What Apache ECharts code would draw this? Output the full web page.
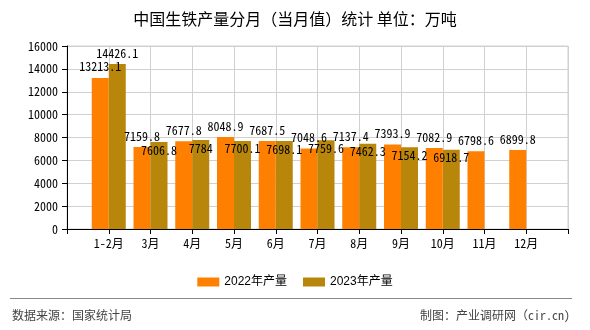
<!DOCTYPE html>
<html>
<head>
<meta charset="utf-8">
<script src="https://cdn.jsdelivr.net/npm/echarts@6/dist/echarts.min.js"></script>
<style>html,body{margin:0;padding:0;background:#fff;}#c{width:590px;height:330px;}</style>
</head>
<body>
<div id="c"></div>
<script>
const months = ["1-2月","3月","4月","5月","6月","7月","8月","9月","10月","11月","12月"];
const values2022 = [13213.1, 7159.8, 7677.8, 8048.9, 7687.5, 7048.6, 7137.4, 7393.9, 7082.9, 6798.6, 6899.8];
const values2023 = [14426.1, 7606.8, 7784, 7700.1, 7698.1, 7759.6, 7462.3, 7154.2, 6918.7, null, null];
const yTicks = [0, 2000, 4000, 6000, 8000, 10000, 12000, 14000, 16000];
const seriesNames = ["2022年产量", "2023年产量"];

const MONO = '"Noto Sans Mono CJK SC", "Noto Sans CJK SC", "DejaVu Sans Mono", monospace';
const cats = [""].concat(months, [""]);
const pad = arr => [null].concat(arr, [null]);

const d2022 = pad(values2022);
const d2023 = pad(values2023).map((v, i) => {
  if (v == null) return null;
  if (i === 1) return { value: v, label: { position: 'top', distance: 5 } };
  return { value: v };
});

const chart = echarts.init(document.getElementById('c'), null, { renderer: 'canvas' });
chart.setOption({
  animation: false,
  backgroundColor: '#fff',
  title: {
    text: '中国生铁产量分月（当月值）统计 单位：万吨',
    left: 'center', top: 6,
    textStyle: { fontSize: 16, fontWeight: 'normal', color: '#000', fontFamily: '"Noto Sans CJK SC", sans-serif' }
  },
  legend: {
    data: seriesNames,
    left: 'center', top: 271,
    itemWidth: 22, itemHeight: 9, itemGap: 16,
    textStyle: { fontSize: 12, color: '#000', fontFamily: '"Liberation Sans", "Noto Sans CJK SC", sans-serif' },
    icon: 'rect'
  },
  grid: { left: 67, right: 22, top: 46, bottom: 101, containLabel: false, show: true, borderColor: '#d0d0d0', borderWidth: 1 },
  xAxis: {
    type: 'category',
    data: cats,
    boundaryGap: false,
    axisLine: { lineStyle: { color: '#000', width: 1 } },
    axisTick: { show: true, interval: 0, length: 5, lineStyle: { color: '#000' } },
    axisLabel: { interval: 0, margin: 8, fontSize: 12, color: '#000', fontFamily: MONO },
    splitLine: { show: true, interval: 0, lineStyle: { color: '#d0d0d0', width: 1 } }
  },
  yAxis: {
    type: 'value',
    min: yTicks[0], max: yTicks[yTicks.length - 1], interval: yTicks[1] - yTicks[0],
    axisLine: { show: true, lineStyle: { color: '#000', width: 1 } },
    axisTick: { show: true, length: 5, lineStyle: { color: '#000' } },
    axisLabel: { margin: 9, fontSize: 12, color: '#000', fontFamily: MONO, formatter: v => String(v) },
    splitLine: { show: true, lineStyle: { color: '#d0d0d0', width: 1 } }
  },
  series: [
    {
      name: seriesNames[0], type: 'bar', data: d2022,
      barWidth: 17, barGap: '0%',
      itemStyle: { color: '#FF8000' },
      label: { show: true, position: 'top', distance: 5, fontSize: 12, color: '#000', fontFamily: MONO }
    },
    {
      name: seriesNames[1], type: 'bar', data: d2023,
      barWidth: 17, barGap: '0%',
      itemStyle: { color: '#B8860B' },
      label: { show: true, position: 'insideTop', distance: 2, fontSize: 12, color: '#000', fontFamily: MONO }
    }
  ],
  graphic: [
    { type: 'line', shape: { x1: 10, y1: 298.5, x2: 572, y2: 298.5 }, style: { stroke: '#888', lineWidth: 1 } },
    { type: 'text', left: 12, top: 309, style: { text: '数据来源：国家统计局', fontSize: 12, fill: '#444', fontFamily: '"Noto Sans CJK SC", sans-serif' } },
    { type: 'text', right: 20, top: 309, style: { text: '制图：产业调研网（cir.cn)', fontSize: 12, fill: '#444', fontFamily: MONO } }
  ]
});
</script>
</body>
</html>
